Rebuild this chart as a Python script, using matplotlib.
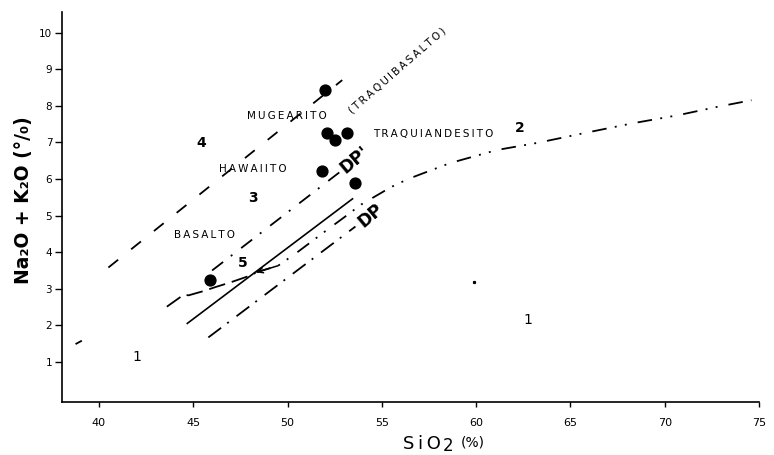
import matplotlib
matplotlib.use('Agg')
import matplotlib.pyplot as plt

plt.rcParams['font.family'] = ['DejaVu Sans']
plt.rcParams['lines.scale_dashes'] = False

# ---------------- data ----------------
x_ticks = [40, 45, 50, 55, 60, 65, 70, 75]
y_ticks = [1, 2, 3, 4, 5, 6, 7, 8, 9, 10]

line4_x = [40.5, 52.9]
line4_y = [3.58, 8.70]

dp_prime_x = [46.0, 52.8]
dp_prime_y = [3.50, 6.20]

solid_x = [44.65, 53.48]
solid_y = [2.04, 5.47]

dp_x = [45.8, 53.6]
dp_y = [1.67, 4.70]

line5_x = [43.6, 44.5, 44.75, 45.5, 46.2, 46.95, 47.85, 48.3]
line5_y = [2.51, 2.84, 2.82, 2.93, 3.05, 3.17, 3.33, 3.43]

line2_x = [48.35, 49.5, 50.5, 52.1, 53.0, 53.9, 55.5, 56.4, 58.6, 61.1,
           63.3, 65.9, 68.3, 70.7, 72.8, 74.6]
line2_y = [3.45, 3.63, 3.99, 4.61, 4.95, 5.30, 5.78, 6.00, 6.43, 6.79,
           6.99, 7.27, 7.52, 7.74, 7.97, 8.15]

line1_x = [38.8, 39.05]
line1_y = [1.50, 1.57]

samples_x = [51.98, 52.07, 52.51, 53.13, 51.81, 53.57, 45.89]
samples_y = [8.43, 7.25, 7.07, 7.25, 6.23, 5.90, 3.24]

speck_x = [59.9]
speck_y = [3.18]

rock_names = ['MUGEARITO', 'TRAQUIANDESITO', 'HAWAIITO', 'BASALTO']
rock_x = [49.95, 57.73, 48.14, 45.62]
rock_y = [7.72, 7.23, 6.27, 4.47]

field_labels = ['4', '3', '5', '2']
field_x = [45.44, 48.18, 47.65, 62.32]
field_y = [6.98, 5.47, 3.70, 7.38]

one_labels = ['1', '1']
one_x = [42.0, 62.76]
one_y = [1.14, 2.15]


def spaced(s):
    return '\u2009'.join(s)


W, H = 774, 455
fig = plt.figure(figsize=(W / 100, H / 100), dpi=100)
ax = fig.add_axes([62 / W, 1 - 401.7 / H, (759 - 62) / W, (401.7 - 12) / H])
ax.set_xlim(38.04, 75.0)
ax.set_ylim(-0.085, 10.56)

for s in ['top', 'right']:
    ax.spines[s].set_visible(False)
for s in ['left', 'bottom']:
    ax.spines[s].set_linewidth(1.2)

ax.set_xticks(x_ticks)
ax.set_yticks(y_ticks)
ax.tick_params(axis='x', direction='out', length=3.5, width=1, pad=8, labelsize=8)
ax.tick_params(axis='y', direction='out', length=5, width=1, pad=2, labelsize=7.5)

k = 'black'
# line 4 (dashed)
ax.plot(line4_x, line4_y, color=k, lw=1.3, dashes=(9, 12))
# DP' (dash-dot)
ax.plot(dp_prime_x, dp_prime_y, color=k, lw=1.3, dashes=(10, 7, 1.4, 8))
# solid line
ax.plot(solid_x, solid_y, color=k, lw=1.2, solid_capstyle='butt')
# DP (dash-dot)
ax.plot(dp_x, dp_y, color=k, lw=1.3, dashes=(11.5, 5.5, 1.4, 7))
# line 5 (dashed curve)
ax.plot(line5_x, line5_y, color=k, lw=1.3, dashes=(12, 5))
# line 2 (dash-dot-dot)
ax.plot(line2_x, line2_y, color=k, lw=1.3, dashes=(10.5, 6, 1.4, 6, 1.4, 8))
# remnant of line 1
ax.plot(line1_x, line1_y, color=k, lw=1.3)
# arrow head where line 5 meets line 2
ax.annotate('', xy=(line2_x[0], line2_y[0]), xytext=(line2_x[1], line2_y[1]),
            arrowprops=dict(arrowstyle='->', color=k, lw=1.1,
                            mutation_scale=9, shrinkA=0, shrinkB=0))

# samples
ax.plot(samples_x, samples_y, 'o', color=k, ms=7.8, zorder=5)
ax.plot(speck_x, speck_y, 's', color=k, ms=1.3)

# rock names
for t, x, y in zip(rock_names, rock_x, rock_y):
    ax.text(x, y, spaced(t), fontsize=7.5, ha='center', va='center')
ax.text(55.83, 8.96, spaced('(TRAQUIBASALTO)'), fontsize=7.5,
        ha='center', va='center', rotation=41, rotation_mode='anchor')

for t, x, y in zip(field_labels, field_x, field_y):
    ax.text(x, y, t, fontsize=10, fontweight='bold', ha='center', va='center')
for t, x, y in zip(one_labels, one_x, one_y):
    ax.text(x, y, t, fontsize=10, ha='center', va='center')

ax.text(53.57, 6.52, "DP'", fontsize=12.5, fontweight='bold', ha='center',
        va='center', rotation=40, rotation_mode='anchor')
ax.text(54.4, 5.0, "DP", fontsize=12.5, fontweight='bold', ha='center',
        va='center', rotation=40, rotation_mode='anchor')

# axis labels
fig.text(24 / W, 1 - 200 / H, 'Na\u2082O + K\u2082O (°/\u2080)', rotation=90,
         fontsize=13.5, fontweight='bold', ha='center', va='center')
fig.text(403 / W, 1 - 444 / H, 'S\u2009i\u2009O', fontsize=13, ha='left', va='center')
fig.text(448 / W, 1 - 446 / H, '2', fontsize=12, ha='center', va='center')
fig.text(473 / W, 1 - 442 / H, '(%)', fontsize=10, ha='center', va='center')

fig.savefig('out.png', dpi=100)
